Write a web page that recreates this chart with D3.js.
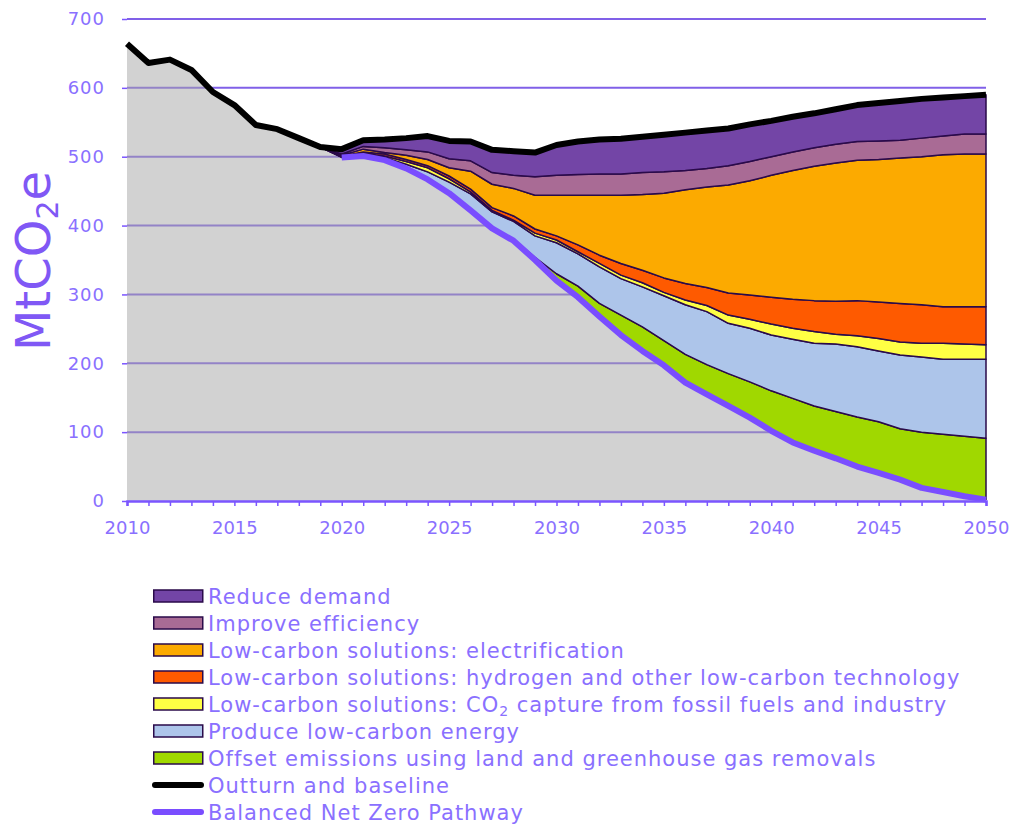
<!DOCTYPE html>
<html><head><meta charset="utf-8">
<script src="https://cdn.jsdelivr.net/npm/d3@7"></script>
<style>body{margin:0;background:#fff}</style>
</head><body>
<svg id="c" width="1029" height="829"></svg>
<script>
// ---- data ----
const outturnYears = d3.range(2010, 2020);
const outturn = [664, 636, 641, 626, 594, 575, 546, 540, 527, 514];
const projYears = d3.range(2020, 2051);
const baseline = [511,524,525,527,530,523,522,510,508,506,517,522,525,526,529,532,535,538,541,547,552,558,563,569,575,578,581,584,586,588,590];
const pathway = [499,501,495,483,467,447,422,396,378,350,320,296,268,241,218,197,172,155,138,121,102,85,73,62,50,41,31,19,13,7,2];
const offset = [0,0,0,0,0,0,0,1,2,4,10,16,19,29,35,36,41,43,47,52,58,64,65,68,72,74,74,81,84,87,89];
const lowCarbonEnergy = [1,3,4,6,11,16,24,23,26,31,45,47,53,53,58,65,72,77,73,78,81,86,91,98,102,103,107,109,109,112,115];
const ccs = [0,1,2,4,6,5,3,2,2,4,4,3,5,5,6,5,7,9,12,13,16,16,17,14,16,18,19,20,23,22,21];
const hydrogen = [1,2,3,3,3,4,4,4,6,6,6,10,12,17,18,21,24,26,32,35,39,42,45,48,51,53,56,56,53,54,55];
const electrification = [1,4,2,6,9,12,26,34,40,49,59,72,87,99,110,123,136,146,157,166,177,187,195,201,204,207,211,215,221,222,222];
const efficiency = [2,4,7,8,11,13,15,17,19,27,29,30,31,31,32,31,28,27,28,28,27,27,27,27,27,27,26,27,27,29,29];
const demand = [7,9,12,17,23,26,28,33,35,35,44,48,50,51,52,54,55,55,54,54,52,51,50,51,53,55,57,57,56,55,57];
const yTicks = [0,100,200,300,400,500,600,700];
const xLabelYears = [2010,2015,2020,2025,2030,2035,2040,2045,2050];

const series = [
  {key:"offset", name:"Offset emissions using land and greenhouse gas removals", values:offset, color:"#a0d800"},
  {key:"energy", name:"Produce low-carbon energy", values:lowCarbonEnergy, color:"#adc5ea"},
  {key:"ccs", name:"Low-carbon solutions: CO2 capture from fossil fuels and industry", values:ccs, color:"#ffff44"},
  {key:"hydrogen", name:"Low-carbon solutions: hydrogen and other low-carbon technology", values:hydrogen, color:"#fe5a00"},
  {key:"elec", name:"Low-carbon solutions: electrification", values:electrification, color:"#fcaa00"},
  {key:"eff", name:"Improve efficiency", values:efficiency, color:"#a96b95"},
  {key:"demand", name:"Reduce demand", values:demand, color:"#7345a6"}
];

// ---- layout ----
const svg = d3.select("#c");
const x = d3.scaleLinear().domain([2010,2050]).range([127,986]);
const y = d3.scaleLinear().domain([0,700]).range([501,19]);
const textCol = "#8a70ff";
const gridCol = "#8060e8";
const outline = "#2a0a4a";
const font = "DejaVu Sans";

// gridlines
svg.append("g").selectAll("line").data(yTicks.filter(d=>d>0)).join("line")
  .attr("x1", x(2010)).attr("x2", x(2050))
  .attr("y1", d=>y(d)).attr("y2", d=>y(d))
  .attr("stroke", gridCol).attr("stroke-width", 2);

// grey area: outturn then pathway
const greyRows = outturnYears.map((yr,i)=>({year:yr, v:outturn[i]}))
  .concat(projYears.map((yr,i)=>({year:yr, v:pathway[i]})));
svg.append("path").datum(greyRows)
  .attr("d", d3.area().x(d=>x(d.year)).y0(y(0)).y1(d=>y(d.v)))
  .attr("fill", "#a6a6a6").attr("fill-opacity", 0.5);

// stacked bands (start at last outturn year with zero width)
const rows = [{year:2019, base:outturn[outturn.length-1]}];
series.forEach(s=>rows[0][s.key]=0);
projYears.forEach((yr,i)=>{
  const r = {year:yr, base:pathway[i]};
  series.forEach(s=>r[s.key]=s.values[i]);
  rows.push(r);
});
const stack = d3.stack().keys(["base"].concat(series.map(s=>s.key)));
const stacked = stack(rows);
const area = d3.area().x(d=>x(d.data.year)).y0(d=>y(d[0])).y1(d=>y(d[1]));
svg.append("g").selectAll("path").data(stacked.slice(1)).join("path")
  .attr("d", area)
  .attr("fill", (d,i)=>series[i].color)
  .attr("stroke", outline).attr("stroke-width", 1.5).attr("stroke-linejoin","round");

// pathway line
svg.append("path").datum(projYears.map((yr,i)=>({year:yr, v:pathway[i]})))
  .attr("d", d3.line().x(d=>x(d.year)).y(d=>y(d.v)))
  .attr("fill","none").attr("stroke","#7a4dff").attr("stroke-width",6)
  .attr("stroke-linejoin","round");

// outturn and baseline line
const blackRows = outturnYears.map((yr,i)=>({year:yr, v:outturn[i]}))
  .concat(projYears.map((yr,i)=>({year:yr, v:baseline[i]})));
svg.append("path").datum(blackRows)
  .attr("d", d3.line().x(d=>x(d.year)).y(d=>y(d.v)))
  .attr("fill","none").attr("stroke","#000").attr("stroke-width",6)
  .attr("stroke-linejoin","round");

// x axis
const xAxis = d3.axisBottom(x).tickValues(d3.range(2010,2051)).tickSize(5).tickPadding(15)
  .tickFormat(d=> xLabelYears.includes(d) ? String(d) : "");
const gx = svg.append("g").attr("transform",`translate(0,${y(0)})`).call(xAxis);
gx.select(".domain").attr("stroke","#7b55ff").attr("stroke-width",2.5);
gx.selectAll(".tick line").attr("stroke","#7b55ff").attr("stroke-width",1.5);
gx.selectAll("text").attr("fill",textCol).attr("font-family",font).attr("font-size",18);

// y axis
const yAxis = d3.axisLeft(y).tickValues(yTicks).tickSize(5).tickPadding(17).tickFormat(d3.format("d"));
const gy = svg.append("g").attr("transform",`translate(${x(2010)},0)`).call(yAxis);
gy.select(".domain").remove();
gy.selectAll(".tick line").attr("stroke","#7b55ff").attr("stroke-width",1.5);
gy.selectAll("text").attr("fill",textCol).attr("font-family",font).attr("font-size",18).attr("letter-spacing",1);

// y title
const yt = svg.append("text").attr("transform","translate(50,261) rotate(-90)")
  .attr("text-anchor","middle").attr("fill","#8058f5").attr("font-family",font).attr("font-size",48);
yt.append("tspan").text("MtCO");
yt.append("tspan").text("2").attr("font-size",30).attr("dy",8);
yt.append("tspan").text("e").attr("dy",-8);

// legend
const legendItems = series.slice().reverse().map(s=>({name:s.name, color:s.color, type:"rect"}))
  .concat([{name:"Outturn and baseline", color:"#000", type:"line"},
           {name:"Balanced Net Zero Pathway", color:"#7a4dff", type:"line"}]);
const lg = svg.append("g").attr("transform","translate(153,596)");
const li = lg.selectAll("g").data(legendItems).join("g").attr("transform",(d,i)=>`translate(0,${i*27})`);
li.filter(d=>d.type==="rect").append("rect")
  .attr("x",0.75).attr("y",-6).attr("width",49).attr("height",12)
  .attr("fill",d=>d.color).attr("stroke",outline).attr("stroke-width",1.5);
li.filter(d=>d.type==="line").append("line")
  .attr("x1",2).attr("x2",48).attr("y1",0).attr("y2",0)
  .attr("stroke",d=>d.color).attr("stroke-width",6).attr("stroke-linecap","round");
li.each(function(d){
  const t = d3.select(this).append("text").attr("x",55).attr("y",8)
    .attr("fill",textCol).attr("font-family",font).attr("font-size",21).attr("letter-spacing",1.0);
  const parts = d.name.split("CO2");
  if (parts.length>1){
    t.append("tspan").text(parts[0]+"CO");
    t.append("tspan").text("2").attr("font-size",14).attr("dy",4);
    t.append("tspan").text(parts[1]).attr("dy",-4);
  } else t.text(d.name);
});
</script>
</body></html>
